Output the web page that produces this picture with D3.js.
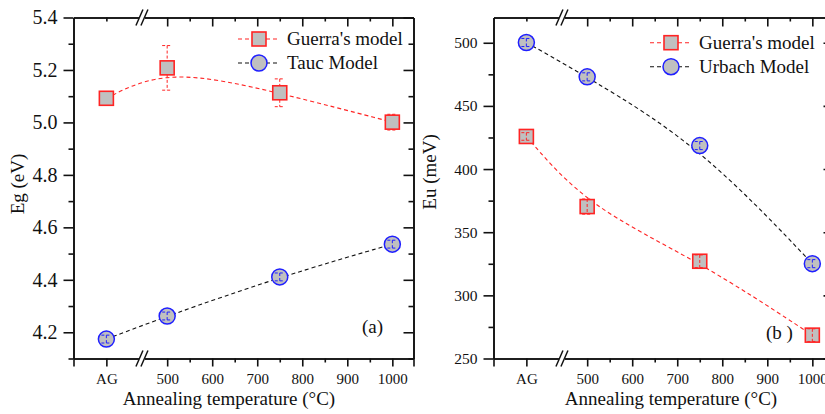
<!DOCTYPE html>
<html>
<head>
<meta charset="utf-8">
<script src="https://cdn.jsdelivr.net/npm/d3@7"></script>
<style>
  html, body { margin: 0; padding: 0; background: #fff; }
  svg { display: block; }
</style>
</head>
<body>
<svg id="chart" width="825" height="414"></svg>
<script>
// Annealing temperatures; the as-grown sample ("AG") sits left of the axis break
const temps = ["AG", 500, 750, 1000];
const AG_POS = 365;            // axis position (°C units) used for the as-grown sample
const xMajor = [500, 600, 700, 800, 900, 1000];
const xMinor = [550, 650, 750, 850, 950];

// Panel (a): optical band gap, eV
const egGuerra    = [5.092, 5.208, 5.113, 5.001];
const egGuerraErr = [0.02, 0.085, 0.053, 0.03];
const egTauc      = [4.174, 4.262, 4.411, 4.536];
const egTaucErr   = [0.015, 0.015, 0.015, 0.015];
const egMajor = [4.2, 4.4, 4.6, 4.8, 5.0, 5.2, 5.4];
const egMinor = [4.1, 4.3, 4.5, 4.7, 4.9, 5.1, 5.3];

// Panel (b): Urbach energy, meV
const euGuerra    = [425.8, 370.3, 327.0, 268.5];
const euGuerraErr = [3, 6, 5, 5];
const euUrbach    = [500.2, 473.0, 418.6, 325.1];
const euUrbachErr = [3.2, 3.2, 3.2, 3.2];
const euMajor = [250, 300, 350, 400, 450, 500];
const euMinor = [275, 325, 375, 425, 475];

const RED = "#ff2424", BLUE = "#1f1fff", FILL = "#c0c0c0";
const FONT = "'Liberation Serif', 'Times New Roman', 'DejaVu Serif', serif";
const svg = d3.select("#chart");

function xVal(t) { return t === "AG" ? AG_POS : t; }

function drawPanel(cfg) {
  const { left, right, top, bottom } = cfg;
  const x = d3.scaleLinear().domain([292, 1047]).range([left, right]);
  const y = d3.scaleLinear().domain(cfg.yDomain).range([bottom, top]);
  const g = svg.append("g");

  // ----- axes -----
  const fmtNone = () => "";
  // bottom: major (labelled) + minor
  const bx = g.append("g").attr("transform", `translate(0,${bottom})`)
    .call(d3.axisBottom(x).tickValues([AG_POS, ...xMajor]).tickSize(8).tickSizeOuter(8)
      .tickFormat(d => d === AG_POS ? "AG" : d).tickPadding(7));
  bx.selectAll("text").style("font-size", "15px").attr("dy", "0.71em");
  g.append("g").attr("transform", `translate(0,${bottom})`)
    .call(d3.axisBottom(x).tickValues(xMinor).tickSize(4).tickSizeOuter(0).tickFormat(fmtNone));
  // top: inward ticks
  g.append("g").attr("transform", `translate(0,${top})`)
    .call(d3.axisTop(x).tickValues(xMajor).tickSize(-9).tickSizeOuter(0).tickFormat(fmtNone));
  g.append("g").attr("transform", `translate(0,${top})`)
    .call(d3.axisTop(x).tickValues([AG_POS, ...xMinor]).tickSize(-4).tickSizeOuter(0).tickFormat(fmtNone));
  // left: outward ticks with labels
  const ly = g.append("g").attr("transform", `translate(${left},0)`)
    .call(d3.axisLeft(y).tickValues(cfg.yMajor).tickSize(10).tickSizeOuter(0)
      .tickPadding(6).tickFormat(cfg.yFormat));
  ly.selectAll("text").style("font-size", cfg.yFont);
  g.append("g").attr("transform", `translate(${left},0)`)
    .call(d3.axisLeft(y).tickValues(cfg.yMinor).tickSize(5).tickSizeOuter(0).tickFormat(fmtNone));
  // right: inward ticks
  g.append("g").attr("transform", `translate(${right},0)`)
    .call(d3.axisRight(y).tickValues(cfg.yMajor).tickSize(-10).tickSizeOuter(0).tickFormat(fmtNone));
  g.append("g").attr("transform", `translate(${right},0)`)
    .call(d3.axisRight(y).tickValues(cfg.yMinor).tickSize(-5).tickSizeOuter(0).tickFormat(fmtNone));

  g.selectAll(".domain, .tick line").attr("stroke", "#111").attr("stroke-width", 1.6);

  // axis break marks "//" on top and bottom axes
  const xb = x(444);
  [top, bottom].forEach(yy => {
    g.append("rect").attr("x", xb - 3).attr("y", yy - 2).attr("width", 6).attr("height", 4).attr("fill", "#fff");
    [-2.5, 2.5].forEach(off => {
      g.append("line")
        .attr("x1", xb + off - 3.5).attr("y1", yy + 8)
        .attr("x2", xb + off + 3.5).attr("y2", yy - 8)
        .attr("stroke", "#111").attr("stroke-width", 1.5);
    });
  });

  // axis titles
  g.append("text").attr("x", cfg.xTitleX).attr("y", 405).attr("text-anchor", "middle")
    .style("font-size", "19px").text("Annealing temperature (°C)");
  g.append("text").attr("transform", `translate(${cfg.yTitleX},${cfg.yTitleY}) rotate(-90)`)
    .attr("text-anchor", "middle").style("font-size", "19px").text(cfg.yTitle);

  // ----- series -----
  const line = d3.line().curve(d3.curveBasis).x(d => x(xVal(d.t))).y(d => y(d.v));
  cfg.series.forEach(s => {
    const pts = temps.map((t, i) => ({ t, v: s.values[i], e: s.errors[i] }));
    g.append("path").datum(pts).attr("d", line).attr("fill", "none")
      .attr("stroke", s.lineColor).attr("stroke-width", 1.1).attr("stroke-dasharray", "4,3");

    const eg = g.append("g");
    const mg = g.append("g");
    if (s.errOnTop) eg.raise();

    pts.forEach(p => {
      const cx = x(xVal(p.t)), cy = y(p.v);
      const yTop = y(p.v + p.e), yBot = y(p.v - p.e);
      const half = s.shape === "square" ? 7 : 8;
      const segs = [];
      if (cy - yTop > half && !s.errOnTop) {
        segs.push([yTop, cy - half], [cy + half, yBot]);
      } else {
        segs.push([yTop, yBot]);
      }
      segs.forEach(([a, b]) => eg.append("line").attr("x1", cx).attr("x2", cx).attr("y1", a).attr("y2", b)
        .attr("stroke", s.color).attr("stroke-width", 1).attr("stroke-dasharray", "3,2"));
      [yTop, yBot].forEach(yy => eg.append("line").attr("x1", cx - 5).attr("x2", cx + 5)
        .attr("y1", yy).attr("y2", yy).attr("stroke", s.color).attr("stroke-width", 1)
        .attr("stroke-dasharray", "3,2"));

      if (s.shape === "square") {
        mg.append("rect").attr("x", cx - 7).attr("y", cy - 7).attr("width", 14).attr("height", 14)
          .attr("fill", FILL).attr("stroke", s.color).attr("stroke-width", 1.6);
      } else {
        mg.append("circle").attr("cx", cx).attr("cy", cy).attr("r", 8)
          .attr("fill", FILL).attr("stroke", s.color).attr("stroke-width", 1.5);
      }
    });
  });

  // legend
  cfg.series.forEach((s, i) => {
    const ly0 = cfg.legendY + i * 24;
    const lx = cfg.legendX;
    g.append("line").attr("x1", lx).attr("x2", lx + 42).attr("y1", ly0).attr("y2", ly0)
      .attr("stroke", s.lineColor).attr("stroke-width", 1.1).attr("stroke-dasharray", "4,3");
    if (s.shape === "square") {
      g.append("rect").attr("x", lx + 21 - 7).attr("y", ly0 - 7).attr("width", 14).attr("height", 14)
        .attr("fill", FILL).attr("stroke", s.color).attr("stroke-width", 1.6);
    } else {
      g.append("circle").attr("cx", lx + 21).attr("cy", ly0).attr("r", 8)
        .attr("fill", FILL).attr("stroke", s.color).attr("stroke-width", 1.5);
    }
    g.append("text").attr("x", lx + 49).attr("y", ly0 + 6).style("font-size", "19px").text(s.name);
  });

  // panel tag
  g.append("text").attr("x", cfg.tagX).attr("y", cfg.tagY).style("font-size", "19px").text(cfg.tag);
}

drawPanel({
  left: 73.5, right: 413.5, top: 17.5, bottom: 358.5,
  yDomain: [4.1, 5.4], yMajor: egMajor, yMinor: egMinor, yFormat: d3.format(".1f"), yFont: "20px",
  yTitle: "Eg (eV)", yTitleX: 24, yTitleY: 184, xTitleX: 229,
  legendX: 238, legendY: 39, tag: "(a)", tagX: 362, tagY: 333,
  series: [
    { name: "Guerra's model", values: egGuerra, errors: egGuerraErr, shape: "square",
      color: RED, lineColor: RED, errOnTop: false },
    { name: "Tauc Model", values: egTauc, errors: egTaucErr, shape: "circle",
      color: BLUE, lineColor: "#111", errOnTop: true }
  ]
});

drawPanel({
  left: 493.5, right: 833.5, top: 17.5, bottom: 358.5,
  yDomain: [250, 520], yMajor: euMajor, yMinor: euMinor, yFormat: d3.format("d"), yFont: "15.5px",
  yTitle: "Eu (meV)", yTitleX: 436, yTitleY: 172, xTitleX: 671,
  legendX: 650, legendY: 42.7, tag: "(b )", tagX: 766, tagY: 339,
  series: [
    { name: "Guerra's model", values: euGuerra, errors: euGuerraErr, shape: "square",
      color: RED, lineColor: RED, errOnTop: true },
    { name: "Urbach Model", values: euUrbach, errors: euUrbachErr, shape: "circle",
      color: BLUE, lineColor: "#111", errOnTop: true }
  ]
});

// all labels in a Times-like serif face
svg.selectAll("text").style("font-family", FONT).style("fill", "#111");
</script>
</body>
</html>
